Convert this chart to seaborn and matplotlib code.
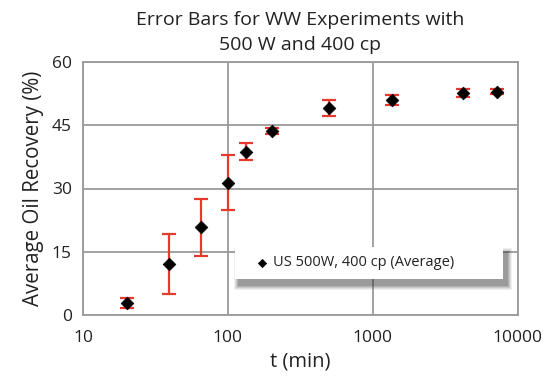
import matplotlib
matplotlib.use("Agg")
import matplotlib.pyplot as plt
import seaborn as sns
import pandas as pd
from matplotlib.patches import Rectangle

time_min = [20, 39, 65, 100, 133, 200, 500, 1350, 4200, 7250]
recovery = [2.9, 12.0, 20.8, 31.4, 38.7, 43.6, 49.1, 51.0, 52.6, 53.0]
error = [1.2, 7.1, 6.8, 6.6, 2.0, 0.7, 2.0, 1.2, 0.9, 0.6]
series_label = "US 500W, 400 cp (Average)"

df = pd.DataFrame({"t": time_min, "rec": recovery, "err": error})

sns.set_theme(style="white")
plt.rcParams['font.family'] = ['Open Sans', 'DejaVu Sans']

fig = plt.figure(figsize=(5.48, 3.77), dpi=100)
ax = fig.add_axes([83/548, 1-315/377, (517.7-83)/548, (315-62)/377])

ax.errorbar(df["t"], df["rec"], yerr=df["err"], fmt="none", ecolor="#e8392f",
            elinewidth=1.6, capsize=5, capthick=1.6, zorder=3)
sns.scatterplot(data=df, x="t", y="rec", marker="D", color="black", s=42,
                edgecolor="black", linewidth=0.5, ax=ax, zorder=4, label=series_label)

ax.set_xscale("log")
ax.set_xlim(10, 10000)
ax.set_ylim(0, 60)
ax.set_xticks([10, 100, 1000, 10000])
ax.set_xticklabels(["10", "100", "1000", "10000"])
ax.minorticks_off()
ax.set_yticks([0, 15, 30, 45, 60])
ax.grid(True, which="major", color="#9a9a9a", linewidth=1.3)
for s in ax.spines.values():
    s.set_color("#9a9a9a")
    s.set_linewidth(1.3)
ax.tick_params(axis="both", which="major", length=5, width=1.2, color="#9a9a9a",
               labelsize=12.5, labelcolor="#222222", pad=4)
ax.tick_params(axis="x", direction="out", pad=6)
ax.tick_params(axis="y", direction="out", pad=3)

ax.set_xlabel("t (min)", fontsize=14.5, color="#222222", labelpad=4)
ax.set_ylabel("Average Oil Recovery (%)", fontsize=14.8, color="#222222", labelpad=6)
ax.set_title("Error Bars for WW Experiments with\n500 W and 400 cp", fontsize=14,
             color="#222222", pad=9, linespacing=1.45)

# legend box with soft shadow (pixel -> axes fraction)
def fx(px):
    return (px - 83) / 434.7

def fy(py):
    return (315 - py) / 253

bx0, bx1, by_top, by_bot = 235, 503, 247, 279
for grow, al in [(5, 0.07), (4, 0.09), (3, 0.12), (2, 0.15), (1, 0.18)]:
    ax.add_patch(Rectangle((fx(bx0 + 4 - grow), fy(by_bot + 6 + grow)),
                           fx(bx1 + 4 + grow) - fx(bx0 + 4 - grow),
                           fy(by_top + 6 - grow) - fy(by_bot + 6 + grow),
                           transform=ax.transAxes, facecolor="#333333",
                           edgecolor="none", alpha=al, zorder=5, clip_on=False))
ax.add_patch(Rectangle((fx(bx0), fy(by_bot)), fx(bx1) - fx(bx0), fy(by_top) - fy(by_bot),
                       transform=ax.transAxes, facecolor="white",
                       edgecolor="none", zorder=5.5, clip_on=False))

leg = ax.legend(loc="center left", bbox_to_anchor=(fx(254.7), fy(263)),
                frameon=False, fontsize=10.5, handletextpad=0.25, borderpad=0,
                handlelength=1.0, markerscale=0.65, borderaxespad=0)
leg.set_zorder(6)
for t in leg.get_texts():
    t.set_color("#222222")

fig.savefig("out.png", dpi=100)
